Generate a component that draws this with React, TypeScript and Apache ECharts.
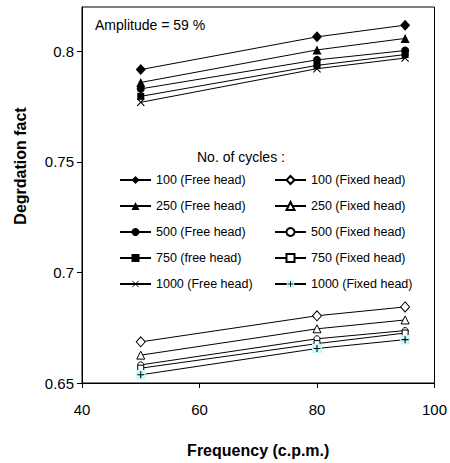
import React, { useEffect, useRef } from 'react';
import * as echarts from 'echarts';

const frequencies = [50, 80, 95];
const xTicks = [40, 60, 80, 100];
const yTicks = [0.65, 0.7, 0.75, 0.8];

const freeNames = ['100 (Free head)', '250 (Free head)', '500 (Free head)', '750 (free head)', '1000 (Free head)'];
const fixedNames = ['100 (Fixed head)', '250 (Fixed head)', '500 (Fixed head)', '750 (Fixed head)', '1000 (Fixed head)'];

const free100 = [0.7917, 0.8065, 0.8118];
const free250 = [0.7859, 0.8006, 0.8058];
const free500 = [0.783, 0.7961, 0.8003];
const free750 = [0.7796, 0.7936, 0.7985];
const free1000 = [0.7769, 0.7921, 0.7969];

const fixed100 = [0.6686, 0.6804, 0.6844];
const fixed250 = [0.6626, 0.6745, 0.6785];
const fixed500 = [0.6582, 0.67, 0.6737];
const fixed750 = [0.6567, 0.6678, 0.6726];
const fixed1000 = [0.6537, 0.6656, 0.6696];

const FONT = '"Liberation Sans", Arial, sans-serif';

const xSvg = 'data:image/svg+xml;utf8,' + encodeURIComponent(
  '<svg xmlns="http://www.w3.org/2000/svg" width="10" height="10" viewBox="0 0 10 10"><path d="M1 1L9 9M9 1L1 9" stroke="#000" stroke-width="1.2" fill="none"/></svg>'
);
const plusSvg = 'data:image/svg+xml;utf8,' + encodeURIComponent(
  '<svg xmlns="http://www.w3.org/2000/svg" width="10" height="10" viewBox="0 0 10 10"><rect x="0" y="0" width="10" height="10" fill="#c8fafa"/><path d="M5 1.5V8.5M1.5 5H8.5" stroke="#000" stroke-width="1.1" fill="none"/></svg>'
);

export default function App() {
  const ref = useRef<HTMLDivElement>(null);
  useEffect(() => {
    if (!ref.current) return;
    const chart = echarts.init(ref.current, undefined, { renderer: 'svg' });
    const mk = (name: string, vals: number[], symbol: string, size: number | number[], filled: boolean) => ({
      name,
      type: 'line',
      data: frequencies.map((f, i) => [f, vals[i]]),
      symbol,
      symbolSize: size,
      showSymbol: true,
      lineStyle: { color: '#000', width: 1 },
      itemStyle: filled
        ? { color: '#000', borderColor: '#000', borderWidth: 0 }
        : { color: '#fff', borderColor: '#000', borderWidth: 1 },
      z: 3,
    });
    const series = [
      mk(freeNames[0], free100, 'diamond', [10, 11], true),
      mk(freeNames[1], free250, 'triangle', [9, 9], true),
      mk(freeNames[2], free500, 'circle', 8, true),
      mk(freeNames[3], free750, 'rect', 7, true),
      mk(freeNames[4], free1000, 'image://' + xSvg, 9, true),
      mk(fixedNames[0], fixed100, 'diamond', [9, 10], false),
      mk(fixedNames[1], fixed250, 'triangle', [8, 8], false),
      mk(fixedNames[2], fixed500, 'circle', 6, false),
      mk(fixedNames[3], fixed750, 'rect', 6, false),
      mk(fixedNames[4], fixed1000, 'image://' + plusSvg, 10, true),
    ];
    const legendBase = {
      orient: 'vertical',
      itemGap: 12,
      itemWidth: 31,
      itemHeight: 10,
      selectedMode: false,
      textStyle: { fontFamily: FONT, fontSize: 12.5, lineHeight: 14, color: '#000' },
    };
    chart.setOption({
      animation: false,
      grid: {
        left: 82,
        right: 13,
        top: 7,
        bottom: 74,
        show: true,
        borderColor: '#000',
        borderWidth: 1,
        backgroundColor: 'transparent',
      },
      xAxis: {
        type: 'value',
        min: 40,
        max: 100,
        interval: 20,
        name: 'Frequency (c.p.m.)',
        nameLocation: 'middle',
        nameGap: 59,
        nameTextStyle: { fontFamily: FONT, fontSize: 16, fontWeight: 'bold', color: '#000' },
        axisLine: { lineStyle: { color: '#000', width: 1 } },
        axisTick: { show: true, length: 5, lineStyle: { color: '#000' }, customValues: xTicks },
        axisLabel: { fontFamily: FONT, fontSize: 15, color: '#000', margin: 19, customValues: xTicks },
        splitLine: { show: false },
      },
      yAxis: {
        type: 'value',
        min: 0.65,
        max: 0.82,
        interval: 0.05,
        axisLine: { show: true, lineStyle: { color: '#000', width: 1 } },
        axisTick: { show: true, length: 5, lineStyle: { color: '#000' }, customValues: yTicks },
        axisLabel: {
          fontFamily: FONT,
          fontSize: 15,
          color: '#000',
          margin: 8,
          customValues: yTicks,
          formatter: (v: number) => String(parseFloat(v.toFixed(2))),
        },
        splitLine: { show: false },
      },
      legend: [
        { ...legendBase, data: freeNames, left: 114, top: 168 },
        { ...legendBase, data: fixedNames, left: 269, top: 168 },
      ],
      graphic: [
        {
          type: 'text',
          x: 95,
          y: 25,
          style: { text: 'Amplitude = 59 %', font: `14px ${FONT}`, fill: '#000', verticalAlign: 'middle' },
        },
        {
          type: 'text',
          x: 197,
          y: 157,
          style: { text: 'No. of cycles :', font: `14px ${FONT}`, fill: '#000', verticalAlign: 'middle' },
        },
        {
          type: 'text',
          x: 20,
          y: 166,
          rotation: Math.PI / 2,
          style: {
            text: 'Degrdation fact',
            font: `bold 16px ${FONT}`,
            fill: '#000',
            align: 'center',
            verticalAlign: 'middle',
          },
        },
      ],
      series,
    });
    return () => chart.dispose();
  }, []);
  return <div ref={ref} style={{ position: 'absolute', left: 0, top: 0, width: 450, height: 463 }} />;
}
